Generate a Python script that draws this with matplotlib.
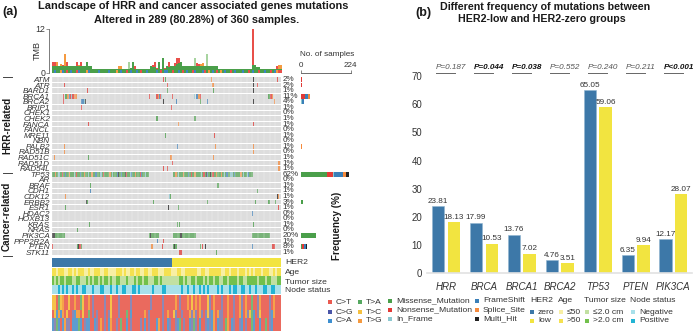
import matplotlib
matplotlib.use("Agg")
import matplotlib.pyplot as plt
import numpy as np

plt.rcParams['font.family'] = ['Liberation Sans', 'DejaVu Sans']

W, H = 697, 333
TXT = '#333333'
def rect(x0, y0, x1, y1):
    return [x0 / W, 1 - y1 / H, (x1 - x0) / W, (y1 - y0) / H]

# ---------- panel (a) data ----------
genes = ['ATM','ATR','BARD1','BRCA1','BRCA2','BRIP1','CHEK1','CHEK2','FANCA','FANCL','MRE11','NBN','PALB2',
         'RAD51B','RAD51C','RAD51D','RAD54L','TP53','AR','BRAF','CDH1','CDK12','ERBB2','ESR1','HDAC2','HOXB13',
         'KRAS','NRAS','PIK3CA','PPP2R2A','PTEN','STK11']
percent = [2,2,1,11,4,1,0,1,1,0,1,0,1,0,1,1,1,62,0,1,1,1,3,1,0,0,1,0,20,1,8,1]

hits_ATM = [(87,'N'),(88.8,'M'),(125,'S'),(158,'H'),(176.6,'N')]
hits_ATR = [(9.4,'N'),(90,'N'),(126,'S'),(158,'H'),(161,'N')]
hits_BARD1 = [(27.5,'N'),(90,'M'),(126.5,'M'),(158,'H')]
hits_BRCA1 = [(8.6,'N'),(10,'M'),(11,'M'),(12,'S'),(13,'F'),(14,'N'),(15,'I'),(16,'N'),(17,'S'),(18,'S'),(19,'S'),
              (76,'N'),(82,'N'),(83,'S'),(84,'F'),(85,'N'),(85.7,'I'),(94,'N'),(111.6,'I'),(113,'F'),(114,'F'),(115,'S'),(116,'N'),
              (170,'M'),(171,'N'),(172,'N'),(173,'S')]
hits_BRCA2 = [(8.6,'N'),(23,'F'),(24,'F'),(25,'I'),(26,'H'),(87,'H'),(97.5,'F'),(116,'M'),(122,'F'),(158,'H'),(174.5,'S')]
hits_BRIP1 = [(22.8,'N'),(93.5,'N')]
hits_CHEK2 = [(82,'M'),(112,'M')]
hits_FANCA = [(28.3,'N'),(99,'S'),(158,'N')]
hits_MRE11 = [(88.8,'M'),(127,'N')]
hits_PALB2 = [(9.4,'S'),(98,'F'),(128,'S'),(158,'S')]
hits_RAD51B = [(9.4,'S'),(158,'S')]
hits_RAD51C = [(1.6,'S'),(28.3,'M'),(93,'S'),(126.5,'S')]
hits_RAD51D = [(94,'N'),(178,'S')]
hits_RAD54L = [(87,'N'),(90,'N'),(178,'S')]
hits_BRAF = [(30,'M'),(130,'M')]
hits_CDH1 = [(29.6,'F'),(161,'M')]
hits_CDK12 = [(10,'S'),(92,'I'),(92.8,'M'),(177,'H'),(177.8,'S')]
hits_ERBB2 = [(26.7,'H'),(27.3,'M'),(79,'M'),(122,'M'),(159.5,'M'),(170,'M'),(175,'M')]
hits_ESR1 = [(10,'M'),(91,'H'),(99,'M'),(177.6,'N')]
hits_HDAC2 = [(157,'F')]
hits_KRAS = [(29,'M'),(98,'M'),(100,'M'),(158,'M')]
hits_NRAS = [(19.7,'M')]
hits_PPP2R2A = [(82.5,'F'),(87,'N')]
hits_PTEN = [(0,'N'),(19.7,'M'),(20.5,'H'),(21.5,'N'),(22.8,'M'),(78,'S'),(86.5,'N'),(95,'M'),(96,'H'),(97,'M'),
             (116,'M'),(118,'N'),(120,'H'),(157,'F'),(173,'N'),(174,'N')]
hits_STK11 = [(100,'N'),(100.8,'N'),(129,'M')]

tp53_col = ("MMSMMIMMNMFMMSMMMIMNMMFMMSMMIM"
            "MSMMFMMMIMNMMMMSMIMMMFHMFMMHNM"
            "MIFMMSMMMNFMMIMM"
            "..................."
            "MMSMIMMMSMMMFMNM"
            "MSMMMMIMNMHFMHMNMMSMMMSMIMFMMI"
            "IMFMMMMSMIMMIFMMM"
            ".....................")
pik3ca_col = ("HHMMMMMMMM" + "."*66 + "MHMMMMMM" + "."*11 + "MMMMMMHMMMMMMMMMMM" + "."*44 + "MMMMMMMMMMMMMM")

n_missense = [3,3,2,2,2,1,0,2,0,0,1,0,1,1,1,1,1,120,0,1,1,1,9,3,0,0,2,1,69,1,8,1]
n_nonsense = [2,2,1,19,2,2,0,0,2,0,1,0,1,0,0,1,2,27,0,0,0,0,0,1,0,0,0,0,0,1,9,1]
n_inframe  = [0,0,0,1,1,0,0,0,0,0,0,0,0,0,0,0,0,2,0,0,0,1,0,0,0,0,0,0,0,0,0,0]
n_frameshift=[0,0,0,13,9,0,0,0,0,0,0,0,1,0,0,0,0,42,0,0,1,0,0,0,1,0,0,0,0,1,6,0]
n_splice   = [1,1,0,7,1,0,0,0,1,0,0,0,2,1,2,1,1,15,0,0,0,1,0,0,0,0,0,0,0,0,0,0]
n_multi    = [0,0,0,0,1,0,0,0,0,0,0,0,0,0,0,0,0,12,0,0,0,1,0,0,0,0,0,0,0,0,4,0]

tmb_total = [2.8,2.8,2.8,1.9,2.3,2.1,5.0,2.8,1.9,1.9,1.9,1.9,2.9,2.1,2.9,1.9,1.9,2.9,1.9,1.9,
             1.1,1.1,1.1,1.1,1.1,1.1,1.1,1.1,1.1,1.1,1.1,1.1,1.1,1.8,1.8,1.1,1.1,1.1,2.9,1.2,
             2.9,1.7,1.1,1.1,1.1,1.1,1.1,1.1,1.1,1.9,2.0,2.9,1.2,2.9,1.1,4.0,1.3,1.9,3.0,1.9,
             1.9,2.6,4.0,4.0,3.0,1.9,1.9,1.9,1.9,1.9,1.9,4.0,2.6,2.4,2.4,2.6,1.9,5.0,1.9,1.9,
             1.9,1.9,1.9,1.1,1.1,1.1,1.1,1.1,1.1,1.1,1.1,1.1,1.1,1.1,1.1,1.1,1.1,1.1,1.1,1.1,
             12.0,2.0,1.6,1.6,1.1,1.1,1.1,1.1,1.1,1.1,1.1,1.1,1.8,2.0,2.0]
tmb_green = [1.9,1.9,1.9,1.9,1.8,1.9,1.9,1.9,1.9,1.9,1.9,1.9,1.9,1.9,1.9,1.9,1.9,1.9,1.9,1.9,
             1.1,1.1,1.1,1.1,1.1,1.1,1.1,1.1,1.1,1.1,1.1,1.1,1.1,1.1,1.1,1.1,1.1,1.1,1.1,1.1,
             1.1,1.1,1.1,1.1,1.1,1.1,1.1,1.1,1.1,1.5,1.5,1.5,1.1,1.1,1.1,1.1,1.1,1.5,1.5,1.9,
             1.9,1.9,2.4,2.6,1.9,1.9,1.9,1.9,1.9,1.9,1.9,1.9,1.9,1.9,1.9,1.9,1.9,1.9,1.9,1.9,
             1.9,1.9,1.9,1.1,1.1,1.1,1.1,1.1,1.1,1.1,1.1,1.1,1.1,1.1,1.1,1.1,1.1,1.1,1.1,1.1,
             2.0,2.0,1.6,1.6,1.1,1.1,1.1,1.1,1.1,1.1,1.1,1.1,1.1,1.1,1.1]
tmb_top = ("RROGORORGGGGRORGRGGG"
           "GGGGGGGGGGGGGOOGGGPG"
           "GRGGGGGGGGRRRGPGRGRG"
           "GRRRGGGGGGGPRROOGPGG"
           "GGGGGGGGGGGGGGGGGGGG"
           "RGGGGGGGGGGGROO")
tmb_base = ("GBGGOBGRGBGGRBGGGOBG"
            "GGGBGGGGBGGGOGBGGRGB"
            "GGBGRGGBGGGGBGRGBBGG"
            "RGGBGRGBGGRBGGGBRGOG"
            "BGRGOGBGGRGBGGGBGGRG"
            "BGGRGGBGGRGBORR")

her2_switch_col = 60.5
age_track = ("11011100110101110010011"
             "10011000011101001101100"
             "11001110001111000110011"
             "11110011001111110011011"
             "10111010101110111001011")
size_track = ("10101101110011000101011"
              "01011010011000100010110"
              "11000110100000000011010"
              "01101110101101100110111"
              "10110011111011101100011")
node_track = ("00010101001010011000100"
              "01100010010011000110100"
              "00001000011000000001001"
              "00100101010000101000101"
              "10011001001000110011000")
spec_top = ("yyrgyorryrrorrgyrrorbrr"
            "rrrbrryrrrbrrrrrbrrrrrr"
            "rrrbrrrrrbrrrrrrorbrrro"
            "ryrororrrybrorrrbrrorrb"
            "rrobrorrgrrborrrrbrorrr")
spec_mid = ("ryaoaoryrrbaooryrrgrbrb"
            "rrrbrbyrrrbrrrgrarrrrrr"
            "orbrrrrrrbrrorrybrrbrrr"
            "obobrobrbybaorobbrrorrb"
            "rroarobygarbyrrrrbaorrr")
spec_low = ("abgaraobbraaagarbaarrab"
            "rorbraorrbrgrrarbrrrrbr"
            "arbrrraorbrrabrrbagrbrr"
            "abgbrarrbabaorabbrgorab"
            "rrbarbrrgarrarrgrbarrrr")
spec_fracs = [0.42, 0.23, 0.35]

# ---------- panel (b) data ----------
groups = ['HRR','BRCA','BRCA1','BRCA2','TP53','PTEN','PIK3CA']
her2_zero = [23.81,17.99,13.76,4.76,65.05,6.35,12.17]
her2_low = [18.13,10.53,7.02,3.51,59.06,9.94,28.07]
p_labels = ['P=0.187','P=0.044','P=0.038','P=0.552','P=0.240','P=0.211','P<0.001']
p_bold = [False,True,True,False,False,False,True]

MUT = {'M':'#4a9f4a','N':'#e23a36','I':'#8cc8d0','F':'#3a7fb8','S':'#f58a3c','H':'#222222'}
BLUE, YEL = '#3d78a8', '#f2e440'
SPEC = {'r':'#ea5a50','b':'#4a55a8','a':'#3d8fd0','g':'#55a860','y':'#f5c040','o':'#f59a40'}
SPEC_BAR = {'r':'#ea6a5e','b':'#8e88b4','a':'#5f9ccf','g':'#78b878','y':'#f5c24a','o':'#f5a24a'}
AGE_ON, AGE_OFF = '#f5e150', '#f8efa4'
SIZE_ON, SIZE_OFF = '#72c04c', '#c2e0a2'
NODE_ON, NODE_OFF = '#22b4d4', '#a8e0ea'
ROW_H = .86

fig = plt.figure(figsize=(W/100, H/100), dpi=100)

# TMB
ax = fig.add_axes(rect(52, 29, 282, 72.5))
xs = np.arange(len(tmb_total))
tcol = {'R':'#e8504a','O':'#f59a40','G':'#4a9f4a','P':'#a8d4a0'}
bcol = {'G':'#4a9f4a','B':'#3d86c0','R':'#e8504a','O':'#f59a40'}
ax.bar(xs+.5, np.array(tmb_total)-np.array(tmb_green), bottom=tmb_green, width=1,
       color=[tcol[c] for c in tmb_top], lw=0)
ax.bar(xs+.5, tmb_green, width=1, color='#4a9f4a', lw=0)
ax.bar(xs+.5, 0.6, width=1, color=[bcol[c] for c in tmb_base], lw=0)
ax.set_xlim(0, 115); ax.set_ylim(0, 12)
for s in ['top','right','bottom']:
    ax.spines[s].set_visible(False)
ax.spines['left'].set_position(('outward', 2)); ax.spines['left'].set_color('#666666'); ax.spines['left'].set_linewidth(.6)
ax.set_xticks([]); ax.set_yticks([0,12]); ax.set_yticklabels(['0','12'], fontsize=6.3, color=TXT)
ax.tick_params(axis='y', length=2, width=.5, pad=.8, color='#666666')
ax.text(-7.5, 6, 'TMB', rotation=90, ha='center', va='center', fontsize=6.5, color=TXT)

# Oncoplot
ax = fig.add_axes(rect(52, 76.7, 281, 255))
for r, g in enumerate(genes):
    ax.barh(r, 180, left=0, height=ROW_H, color='#dddddd', lw=0)
ax.vlines(np.arange(0, 180, 4.5), -.5, 31.5, color='white', lw=.35, alpha=.55)
all_hits = {'ATM':hits_ATM,'ATR':hits_ATR,'BARD1':hits_BARD1,'BRCA1':hits_BRCA1,'BRCA2':hits_BRCA2,'BRIP1':hits_BRIP1,
            'CHEK2':hits_CHEK2,'FANCA':hits_FANCA,'MRE11':hits_MRE11,'PALB2':hits_PALB2,'RAD51B':hits_RAD51B,
            'RAD51C':hits_RAD51C,'RAD51D':hits_RAD51D,'RAD54L':hits_RAD54L,'BRAF':hits_BRAF,'CDH1':hits_CDH1,
            'CDK12':hits_CDK12,'ERBB2':hits_ERBB2,'ESR1':hits_ESR1,'HDAC2':hits_HDAC2,'KRAS':hits_KRAS,'NRAS':hits_NRAS,
            'PPP2R2A':hits_PPP2R2A,'PTEN':hits_PTEN,'STK11':hits_STK11}
for g, hs in all_hits.items():
    r = genes.index(g)
    for c, t in hs:
        ax.bar(c+.5, ROW_H, bottom=r-ROW_H/2, width=1, color=MUT[t], alpha=.75, lw=0)
for g, s in (('TP53', tp53_col), ('PIK3CA', pik3ca_col)):
    r = genes.index(g)
    for i, t in enumerate(s):
        if t != '.':
            ax.bar(i+.5, ROW_H, bottom=r-ROW_H/2, width=1, color=MUT[t], alpha=.68, lw=0)
ax.set_xlim(0, 180); ax.set_ylim(31.5, -.5)
for s in ax.spines.values():
    s.set_visible(False)
ax.set_xticks([])
ax.set_yticks(range(len(genes))); ax.set_yticklabels(genes, style='italic', fontsize=5.9, color=TXT)
ax.tick_params(axis='y', length=0, pad=1.4)
for r, p in enumerate(percent):
    ax.text(181.5, r, f'{p}%', ha='left', va='center', fontsize=5.9, color=TXT)

# Right frequency bars
ax = fig.add_axes(rect(300.5, 76.7, 350.5, 255))
left = np.zeros(len(genes))
for arr, k in ((n_missense,'M'),(n_nonsense,'N'),(n_inframe,'I'),(n_frameshift,'F'),(n_splice,'S'),(n_multi,'H')):
    ax.barh(range(len(genes)), arr, left=left, height=ROW_H, color=MUT[k], lw=0)
    left += np.array(arr)
ax.set_xlim(0, 224); ax.set_ylim(31.5, -.5)
for s in ['left','right','bottom']:
    ax.spines[s].set_visible(False)
ax.spines['top'].set_position(('outward', 2.8)); ax.spines['top'].set_linewidth(.6); ax.spines['top'].set_color('#555555')
ax.set_yticks([]); ax.xaxis.tick_top(); ax.set_xticks([0,224]); ax.set_xticklabels(['0','224'], fontsize=5.8, color=TXT)
ax.tick_params(axis='x', length=2, width=.5, pad=.6, color='#555555')

# Annotation tracks
ax = fig.add_axes(rect(52, 258, 281, 267))
ax.bar(her2_switch_col/2, 1, width=her2_switch_col, color=BLUE, lw=0)
ax.bar((115+her2_switch_col)/2, 1, width=115-her2_switch_col, color=YEL, lw=0)
ax.set_xlim(0,115); ax.set_ylim(0,1); ax.axis('off')

def stripes(box, s, on, off):
    a = fig.add_axes(rect(*box))
    for i, c in enumerate(s):
        a.bar(i+.5, 1, width=1, color=on if c == '1' else off, lw=0)
    a.set_xlim(0, len(s)); a.set_ylim(0,1); a.axis('off')
stripes((52, 267.5, 281, 276), age_track, AGE_ON, AGE_OFF)
stripes((52, 276, 281, 285), size_track, SIZE_ON, SIZE_OFF)
stripes((52, 285, 281, 294), node_track, NODE_ON, NODE_OFF)

# Spectrum stacked columns
ax = fig.add_axes(rect(52, 295, 281, 331))
n = len(spec_top)
b_top = 1 - spec_fracs[0]; b_mid = b_top - spec_fracs[1]
for i in range(n):
    ax.bar(i+.5, spec_fracs[0], bottom=b_top, width=1, color=SPEC_BAR[spec_top[i]], lw=0)
    ax.bar(i+.5, spec_fracs[1], bottom=b_mid, width=1, color=SPEC_BAR[spec_mid[i]], lw=0)
    ax.bar(i+.5, spec_fracs[2], bottom=0, width=1, color=SPEC_BAR[spec_low[i]], lw=0)
ax.set_xlim(0, n); ax.set_ylim(0,1); ax.axis('off')

# Panel (b) bars
ax = fig.add_axes(rect(427, 76, 692, 273.3))
x = np.arange(len(groups))
ax.bar(x-.207, her2_zero, width=.325, color=BLUE, edgecolor='#8fb4d0', lw=.4)
ax.bar(x+.207, her2_low, width=.325, color=YEL, lw=0)
for i in x:
    ax.text(i-.207, her2_zero[i]+.4, f'{her2_zero[i]:.2f}', ha='center', va='bottom', fontsize=5.9, color=TXT)
    ax.text(i+.207, her2_low[i]+.4, f'{her2_low[i]:.2f}', ha='center', va='bottom', fontsize=5.9, color=TXT)
    bold = p_bold[i]
    ax.text(i+.14, 71.6, p_labels[i], ha='center', va='bottom', style='italic', fontsize=5.9,
            fontweight='bold' if bold else 'normal', color='#111111' if bold else '#555555')
    ax.plot([i-.26, i+.24], [71.2, 71.2], color='#666666', lw=.7, clip_on=False)
ax.set_xlim(-.5, 6.49); ax.set_ylim(0, 70)
for s in ['top','right','left']:
    ax.spines[s].set_visible(False)
ax.spines['bottom'].set_color('#e2e2e2'); ax.spines['bottom'].set_linewidth(1.2)
ax.set_xticks(x); ax.set_xticklabels(groups, style='italic', fontsize=7, color=TXT)
ax.set_yticks(range(0, 71, 10)); ax.set_yticklabels([str(v) for v in range(0, 71, 10)], fontsize=6.9, color=TXT)
ax.tick_params(axis='y', length=0, pad=3.5)
ax.tick_params(axis='x', length=0, pad=6)

# Overlay: titles, side labels, legend
ov = fig.add_axes([0,0,1,1]); ov.set_xlim(0,W); ov.set_ylim(H,0); ov.axis('off'); ov.patch.set_alpha(0)
T = '#1a1a1a'
ov.text(2, 12.5, '(a)', fontsize=9, fontweight='bold', va='center', color=T)
ov.text(193.5, 6.3, 'Landscape of HRR and cancer associated genes mutations', fontsize=7.9, fontweight='bold', ha='center', va='center', color=T)
ov.text(196.5, 20, 'Altered in 289 (80.28%) of 360 samples.', fontsize=7.9, fontweight='bold', ha='center', va='center', color=T)
ov.text(415, 13, '(b)', fontsize=9, fontweight='bold', va='center', color=T)
ov.text(545, 7, 'Different frequency of mutations between', fontsize=7.7, fontweight='bold', ha='center', va='center', color=T)
ov.text(542, 19.5, 'HER2-low and HER2-zero groups', fontsize=7.7, fontweight='bold', ha='center', va='center', color=T)
ov.text(7, 125.5, 'HRR-related', rotation=90, fontsize=7.1, fontweight='bold', ha='center', va='center', color=T)
ov.text(7, 216, 'Cancer-related', rotation=90, fontsize=7.1, fontweight='bold', ha='center', va='center', color=T)
for yy in (77, 173, 256):
    ov.plot([3, 12], [yy, yy], color='#444444', lw=.7)
ov.text(337, 225.5, 'Frequency (%)', rotation=90, fontsize=7.1, fontweight='bold', ha='center', va='center', color=T)
ov.text(300, 54, 'No. of samples', fontsize=5.9, va='center', color=TXT)
for lab, yy in (('HER2',263),('Age',272),('Tumor size',282),('Node status',291)):
    ov.text(285, yy, lab, fontsize=6.1, va='center', color=TXT)

def leg(mx, tx, yy, c, s):
    ov.plot([mx],[yy], marker='s', ms=2.3, color=c, mew=0, ls='')
    ov.text(tx, yy, s, fontsize=6.1, va='center', color=TXT)
leg(330,336,302,SPEC['r'],'C>T'); leg(330,336,312,SPEC['b'],'C>G'); leg(330,336,321,SPEC['a'],'C>A')
leg(360,366,302,SPEC['g'],'T>A'); leg(360,366,312,SPEC['y'],'T>C'); leg(360,366,321,SPEC['o'],'T>G')
leg(390,396,301,MUT['M'],'Missense_Mutation'); leg(390,396,310,MUT['N'],'Nonsense_Mutation'); leg(390,396,319,MUT['I'],'In_Frame')
leg(477,483,301,MUT['F'],'FrameShift'); leg(477,483,310,MUT['S'],'Splice_Site'); leg(477,483,319,MUT['H'],'Multi_Hit')
for tx, s in ((530,'HER2'),(558,'Age'),(584,'Tumor size'),(630,'Node status')):
    ov.text(tx, 301, s, fontsize=6.1, va='center', color=TXT)
leg(532,538,312,BLUE,'zero'); leg(532,538,321,YEL,'low')
leg(561,567,312,AGE_OFF,'≤50'); leg(561,567,321,AGE_ON,'>50')
leg(587,593,312,SIZE_OFF,'≤2.0 cm'); leg(587,593,321,SIZE_ON,'>2.0 cm')
leg(633,639,312,NODE_OFF,'Negative'); leg(633,639,321,NODE_ON,'Positive')

fig.savefig('out.png', dpi=100)
